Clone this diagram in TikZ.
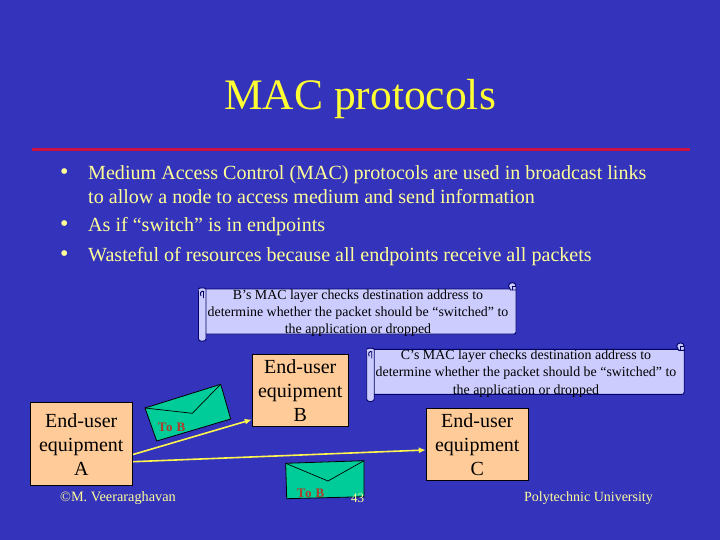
\documentclass[tikz,border=0pt]{standalone}
\usepackage{fontspec}
\setmainfont{Liberation Serif}
\usetikzlibrary{arrows.meta}
\definecolor{bgblue}{HTML}{3333BB}
\definecolor{titley}{HTML}{FFFF33}
\definecolor{bodyc}{HTML}{FFFF99}
\definecolor{footy}{HTML}{FFFF99}
\definecolor{rule}{HTML}{CC1144}
\definecolor{scrollf}{HTML}{CCCCFF}
\definecolor{boxf}{HTML}{FFCC99}
\definecolor{envf}{HTML}{00CC99}
\definecolor{tob}{HTML}{B03A2A}
\tikzset{
 euser/.style={draw=black,line width=1pt,fill=boxf,inner sep=0pt,align=center,font=\fontsize{20}{24}\selectfont},
 scrolltext/.style={align=center,inner sep=0pt,text=black,font=\fontsize{13.9}{17.3}\selectfont},
 scrollshape/.style={draw=black!60!blue,line width=.9pt,fill=scrollf},
 envelope/.style={draw=black,line width=.8pt,fill=envf},
 flap/.style={draw=black,line width=.7pt},
 tobtext/.style={text=tob,font=\fontsize{13}{14}\selectfont\bfseries\addfontfeature{LetterSpace=6},inner sep=0pt},
 link/.style={draw=yellow!70!white,line width=1.6pt,-{Latex[length=7pt,width=6pt]}},
 bullet/.style={anchor=base west,inner sep=0pt,text=bodyc,font=\fontsize{20.08}{24}\selectfont},
 bmark/.style={anchor=base west,inner sep=0pt,text=bodyc,font=\fontsize{24}{24}\selectfont},
 foot/.style={inner sep=0pt,text=footy,font=\fontsize{14}{16}\selectfont}
}
\newcommand{\myscroll}[2]{%
 \begin{scope}[shift={(#1,#2)}]
  \path[scrollshape] (0,0) -- (317.5,0) -- (317.5,43) .. controls (317.5,45) and (316,45) .. (315,45) -- (7.5,45) -- (7.5,50) .. controls (7.5,53) and (0,53) .. (0,50) -- cycle;
  \draw[scrollshape] (0,0) .. controls (0,-1.5) and (7.5,-1.5) .. (7.5,0) -- (7.5,45);
  \draw[scrollshape,fill=none] (2.5,7) .. controls (0,1) and (7,1) .. (5,4.5) -- (5,9);
  \draw[scrollshape] (310,-3) .. controls (310,-7.5) and (317.5,-7.5) .. (317.5,-3) -- (317.5,1) -- (312,1) -- cycle;
  \draw[scrollshape,fill=none] (313.5,1) -- (313.5,-2.5) -- (317.5,-2.5);
 \end{scope}}
\begin{document}
\begin{tikzpicture}[x=1pt,y=-1pt]
\useasboundingbox[fill=bgblue] (0,0) rectangle (720,540);
\node[text=titley,font=\fontsize{43.5}{48}\selectfont,inner sep=0pt] (title) at (360,99) {MAC protocols};
\fill[rule] (32,148.5) rectangle (690,151.5);
\node[bmark] (b1) at (60,180) {•};
\node[bullet] (t1) at (88,179.5) {Medium Access Control (MAC) protocols are used in broadcast links};
\node[bullet] (t1b) at (88,203.5) {to allow a node to access medium and send information};
\node[bmark] (b2) at (60,232) {•};
\node[bullet] (t2) at (88,231) {As if “switch” is in endpoints};
\node[bmark] (b3) at (60,261) {•};
\node[bullet] (t3) at (88,261) {Wasteful of resources because all endpoints receive all packets};

\myscroll{198.5}{289}
\myscroll{366.7}{349.3}
\node[scrolltext] (sb) at (358,313) {B's MAC layer checks destination address to\\determine whether the packet should be “switched” to\\the application or dropped};
\node[scrolltext] (sc) at (526,373.5) {C's MAC layer checks destination address to\\determine whether the packet should be “switched” to\\the application or dropped};

\node[euser,minimum width=102.5pt,minimum height=83.5pt] (A) at (81.3,444.2) {End-user\\equipment\\A};
\node[euser,minimum width=96pt,minimum height=72pt] (B) at (300.3,390.3) {End-user\\equipment\\B};
\node[euser,minimum width=102pt,minimum height=72pt] (C) at (477.3,444.3) {End-user\\equipment\\C};

\path[envelope] (145,408) -- (220.7,384.3) -- (230.7,419) -- (156.7,441) -- cycle;
\draw[flap] (145,408) -- (192.3,413.3) -- (220.7,384.3);
\node[tobtext] (to1) at (171.5,427) {To B};

\path[envelope] (285.7,463.3) -- (364,460.7) -- (364,496.7) -- (286.7,498.7) -- cycle;
\draw[flap] (285.7,463.3) -- (328,481) -- (364,460.7);
\node[tobtext] (to2) at (310.5,493) {To B};

\draw[link] ([yshift=-10.3pt]A.east) -- ([yshift=-29.3pt]B.west);
\draw[link] ([yshift=-17.5pt]A.east) -- ([yshift=-5.7pt]C.west);

\node[foot,font=\fontsize{14.3}{16}\selectfont] (fa) at (118,498.5) {©M. Veeraraghavan};
\node[foot,font=\fontsize{13}{15}\selectfont] (fn) at (357.5,498.5) {43};
\node[foot] (fp) at (588.5,498.5) {Polytechnic University};
\end{tikzpicture}
\end{document}
